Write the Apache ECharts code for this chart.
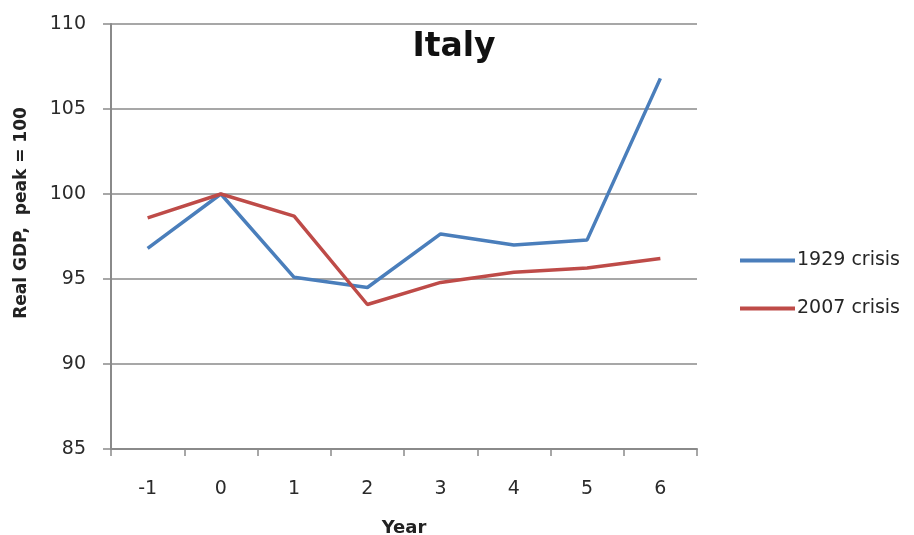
<!DOCTYPE html>
<html>
<head>
<meta charset="utf-8">
<script src="https://cdn.jsdelivr.net/npm/echarts@6/dist/echarts.min.js"></script>
<style>html,body{margin:0;padding:0;background:#fff}#c{width:914px;height:535px}</style>
</head>
<body>
<div id="c"></div>
<script>
const years = ['-1', '0', '1', '2', '3', '4', '5', '6'];
const crisis1929 = [96.8, 100, 95.1, 94.5, 97.65, 97.0, 97.3, 106.8];
const crisis2007 = [98.6, 100, 98.7, 93.5, 94.8, 95.4, 95.65, 96.2];
const seriesNames = ['1929 crisis', '2007 crisis'];
const yAxisTitle = 'Real GDP,  peak = 100';

const font = 'DejaVu Sans, sans-serif';
const chart = echarts.init(document.getElementById('c'));
chart.setOption({
  animation: false,
  backgroundColor: '#fff',
  title: {
    text: 'Italy', left: 449, top: 26, textAlign: 'center',
    textStyle: { fontFamily: font, fontSize: 33, fontWeight: 'bold', color: '#111' }
  },
  legend: {
    orient: 'vertical', left: 735, top: 246,
    icon: 'rect', itemWidth: 55, itemHeight: 4, itemGap: 29,
    textStyle: { fontFamily: font, fontSize: 19, color: '#262626', padding: [0, 0, 0, -3] },
    data: seriesNames
  },
  graphic: [{
    type: 'text', x: 22, y: 213, rotation: Math.PI / 2,
    style: { text: yAxisTitle, font: 'bold 17px DejaVu Sans', fill: '#222', align: 'center', verticalAlign: 'middle' }
  }],
  grid: { left: 111, right: 217, top: 24, bottom: 86, outerBoundsMode: 'none', containLabel: false },
  xAxis: {
    type: 'category', data: years, boundaryGap: true,
    name: 'Year', nameLocation: 'middle', nameGap: 70,
    nameTextStyle: { fontFamily: font, fontSize: 18, fontWeight: 'bold', color: '#222' },
    axisLine: { lineStyle: { color: '#8a8a8a', width: 2 } },
    axisTick: { show: true, length: 7, inside: false, lineStyle: { color: '#8a8a8a', width: 1.5 } },
    axisLabel: { fontFamily: font, fontSize: 19, color: '#2a2a2a', margin: 31 }
  },
  yAxis: {
    type: 'value', min: 85, max: 110, interval: 5,
    axisLine: { show: true, lineStyle: { color: '#8a8a8a', width: 2 } },
    axisTick: { show: true, length: 8, lineStyle: { color: '#8a8a8a', width: 1.5 } },
    axisLabel: { fontFamily: font, fontSize: 19, color: '#2a2a2a', margin: 25 },
    splitLine: { show: true, lineStyle: { color: '#8a8a8a', width: 1.5 } }
  },
  series: [
    { name: seriesNames[0], type: 'line', data: crisis1929, symbol: 'none',
      lineStyle: { color: '#4a7ebb', width: 3.5 }, itemStyle: { color: '#4a7ebb' } },
    { name: seriesNames[1], type: 'line', data: crisis2007, symbol: 'none',
      lineStyle: { color: '#be4b48', width: 3.5 }, itemStyle: { color: '#be4b48' } }
  ]
});
</script>
</body>
</html>
